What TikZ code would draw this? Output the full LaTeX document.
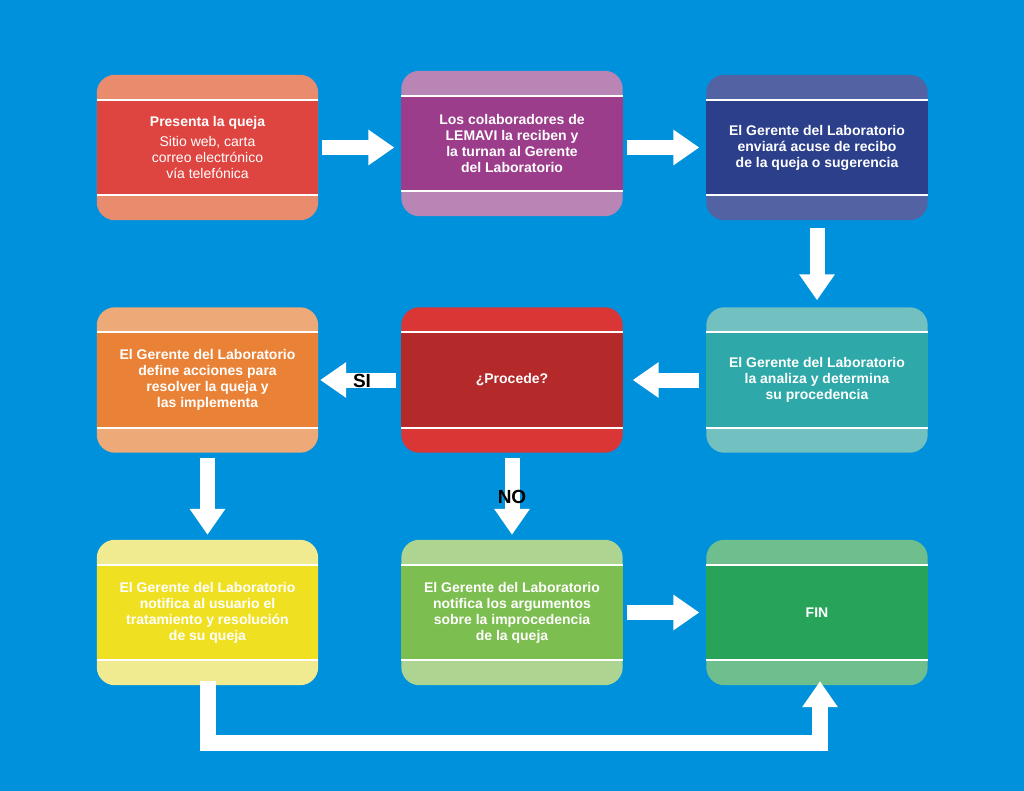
\documentclass[tikz,border=0pt]{standalone}
\usepackage{fontspec}
\setmainfont{Liberation Sans}
\usetikzlibrary{arrows.meta}
\definecolor{bg}{HTML}{0091DC}
\tikzset{
 box/.style={minimum width=221pt,minimum height=145pt,inner sep=0pt},
 txt/.style={text=white,font=\bfseries\fontsize{14}{16}\selectfont,align=center},
 arr/.style={white,line width=15pt,-{Triangle[width=34pt,length=26pt]}},
 lab/.style={font=\bfseries\fontsize{19}{20}\selectfont,text=black}
}
\newcommand\bx[6]{%
 \definecolor{bandc}{HTML}{#4}\definecolor{mainc}{HTML}{#5}%
 \node[box] (#1) at (#2,#3) {};
 \fill[bandc,rounded corners=18pt] (#1.south west) rectangle (#1.north east);
 \fill[mainc] ([yshift=-25pt]#1.north west) rectangle ([yshift=25pt]#1.south east);
 \draw[white,line width=2pt] ([yshift=-25pt]#1.north west) -- ([yshift=-25pt]#1.north east);
 \draw[white,line width=2pt] ([yshift=25pt]#1.south west) -- ([yshift=25pt]#1.south east);
 \node[txt] at (#1) {#6};}
\begin{document}
\begin{tikzpicture}[x=1pt,y=-1pt]
\fill[bg] (0,0) rectangle (1024,791);
\bx{a}{207.5}{147.5}{E98C6E}{DF4540}{Presenta la queja\\[4pt]\mdseries Sitio web, carta\\\mdseries correo electrónico\\\mdseries vía telefónica}
\bx{b}{512}{143.5}{B985B5}{9B3D8A}{Los colaboradores de\\LEMAVI la reciben y\\la turnan al Gerente\\del Laboratorio}
\bx{c}{817}{147.5}{5262A2}{2C3F8B}{El Gerente del Laboratorio\\enviará acuse de recibo\\de la queja o sugerencia}
\bx{d}{207.5}{380}{EDAA78}{E98236}{El Gerente del Laboratorio\\define acciones para\\resolver la queja y\\las implementa}
\bx{e}{512}{380}{DB3636}{B42A2A}{¿Procede?}
\bx{f}{817}{380}{72C0C0}{2EA8A8}{El Gerente del Laboratorio\\la analiza y determina\\su procedencia}
\bx{g}{207.5}{612.5}{F0EA90}{F0E022}{El Gerente del Laboratorio\\notifica al usuario el\\tratamiento y resolución\\de su queja}
\bx{h}{512}{612.5}{ADD490}{7DBE50}{El Gerente del Laboratorio\\notifica los argumentos\\sobre la improcedencia\\de la queja}
\bx{i}{817}{612.5}{6FBE8E}{27A35A}{FIN}
\draw[arr,shorten <=4pt,shorten >=7pt] (a.east|-a) -- (b.west|-a);
\draw[arr,shorten <=4pt,shorten >=7pt] (b.east|-a) -- (c.west|-a);
\draw[arr,shorten <=8pt,shorten >=7pt] (c.south) -- (f.north);
\draw[arr,shorten <=7pt,shorten >=10pt] (f.west) -- (e.east);
\draw[arr,shorten <=5pt,shorten >=2pt] (e.west) -- (d.east);
\draw[arr,shorten <=5pt,shorten >=5pt] (d.south) -- (g.north);
\draw[arr,shorten <=5pt,shorten >=5pt] (e.south) -- (h.north);
\draw[arr,shorten <=4pt,shorten >=7pt] (h.east) -- (i.west|-h);
\coordinate (p) at (207.5,743);
\coordinate (q) at (820,743);
\draw[white,line width=16pt,line join=miter] ([yshift=4pt]g.south) -- (p) -- (q) -- (820,716);
\draw[arr,line width=16pt] (820,720) -- ([yshift=4pt]i.south-|q);
\node[lab] at (362,381) {SI};
\node[lab] at (512,497) {NO};
\end{tikzpicture}
\end{document}
